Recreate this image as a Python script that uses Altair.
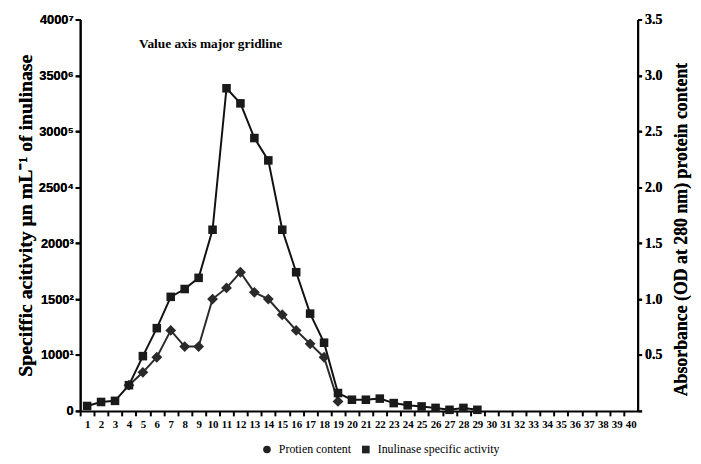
import altair as alt
import pandas as pd

# ---- data ----
series_names = ["Protien content", "Inulinase specific activity"]
activity_fraction = list(range(1, 30))
activity_value = [0.044, 0.08, 0.09, 0.23, 0.49, 0.74, 1.02, 1.09, 1.19, 1.62,
                  2.885, 2.75, 2.44, 2.24, 1.62, 1.24, 0.87, 0.61, 0.16, 0.10,
                  0.10, 0.11, 0.07, 0.05, 0.04, 0.027, 0.01, 0.027, 0.01]
protein_fraction = list(range(4, 20))
protein_value = [0.23, 0.345, 0.48, 0.72, 0.575, 0.575, 1.0, 1.10, 1.24, 1.06,
                 1.0, 0.86, 0.72, 0.60, 0.48, 0.085]
x_ticks = list(range(1, 41))
y_ticks = [0, 0.5, 1.0, 1.5, 2.0, 2.5, 3.0, 3.5]
left_labels = ["0", "1000¹", "1500²", "2000³", "2500⁴", "3000⁵", "3500⁶", "4000⁷"]
annotation = "Value axis major gridline"
left_title = "Speciffic acitivity μn mL⁻¹ of inulinase"
right_title = "Absorbance (OD at 280 nm) protein content"

df = pd.DataFrame({
    "fraction": activity_fraction + protein_fraction,
    "value": activity_value + protein_value,
    "series": [series_names[1]] * len(activity_fraction) + [series_names[0]] * len(protein_fraction),
})

W, H = 564, 396
SERIF = "Liberation Serif"
half_step = W / 80

xscale = alt.Scale(domain=[0.5, 40.5], nice=False, zero=False)
yscale = alt.Scale(domain=[0, 3.5], nice=False)

x_enc = alt.X("fraction:Q", scale=xscale,
              axis=alt.Axis(values=x_ticks, tickOffset=-half_step, labelOffset=half_step,
                            grid=False, title=None,
                            labelOverlap=False, labelFont=SERIF, labelFontWeight="bold",
                            labelFontSize=11, labelColor="black", domainColor="black",
                            domainWidth=2, tickColor="black", tickWidth=2, tickSize=5,
                            labelPadding=3, labelFlush=False))

left_expr = "[" + ",".join("'%s'" % s for s in left_labels) + "][round(datum.value*2)]"

y_left = alt.Y("value:Q", scale=yscale,
               axis=alt.Axis(orient="left", values=y_ticks, labelExpr=left_expr, grid=False,
                             title=left_title, titleFont=SERIF, titleFontSize=20,
                             titleFontWeight="bold", titleColor="black", titlePadding=3,
                             labelFont="Liberation Sans", labelFontSize=13,
                             labelFontWeight="bold", labelColor="black",
                             domainColor="black", domainWidth=2, tickColor="black",
                             tickWidth=2, tickSize=5, labelPadding=2))
y_right = alt.Y("value:Q", scale=yscale,
                axis=alt.Axis(orient="right", values=y_ticks,
                              labelExpr="datum.value == 0 ? '' : format(datum.value, '.1f')",
                              grid=False, title=right_title, titleFont=SERIF,
                              titleFontSize=18, titleFontWeight="bold", titleColor="black",
                              titleAngle=270, titleBaseline="top", titleY=212,
                              titlePadding=11, labelFont=SERIF, labelFontSize=14,
                              labelFontWeight="bold", labelColor="black",
                              domainColor="black", domainWidth=2, tickColor="black",
                              tickWidth=2, tickSize=4, labelPadding=3))

base = alt.Chart(df)
act = base.transform_filter(alt.datum.series == series_names[1])
pro = base.transform_filter(alt.datum.series == series_names[0])

pro_line = pro.mark_line(color="#2a2a2a", strokeWidth=2).encode(x=x_enc, y=y_right)
pro_pts = pro.mark_point(shape="diamond", filled=True, size=120, color="#2a2a2a",
                         opacity=1).encode(x=x_enc, y=y_right)
act_line = act.mark_line(color="#111111", strokeWidth=2).encode(x=x_enc, y=y_left)
act_pts = act.mark_point(shape="square", filled=True, size=75, color="#1a1a1a",
                         opacity=1).encode(x=x_enc, y=y_left)

legend_layer = base.transform_filter("false").mark_point(filled=True, color="#222222",
                                                        opacity=1).encode(
    shape=alt.Shape("series:N",
                    scale=alt.Scale(domain=series_names, range=["circle", "square"]),
                    legend=alt.Legend(title=None, orient="none", direction="horizontal",
                                      legendX=183, legendY=429, labelFont=SERIF,
                                      labelFontSize=12, labelColor="black",
                                      symbolSize=60, symbolFillColor="#222222",
                                      symbolStrokeColor="#222222", columnPadding=8,
                                      labelOffset=6))
)

note = alt.Chart(pd.DataFrame({"t": [annotation]})).mark_text(
    font=SERIF, fontSize=13.5, fontWeight="bold", color="black", align="center",
    baseline="middle"
).encode(x=alt.value(132), y=alt.value(25), text="t:N")

chart = alt.layer(pro_line, act_line, pro_pts, act_pts, legend_layer, note).resolve_scale(
    y="shared"
).resolve_axis(y="independent").properties(
    width=W, height=H,
    autosize=alt.AutoSizeParams(type="none"),
    padding={"left": 73, "top": 9, "right": 56, "bottom": 44},
    background="white",
).configure_view(stroke=None)

chart.save("out.html", embed_options={"renderer": "svg", "actions": False})
